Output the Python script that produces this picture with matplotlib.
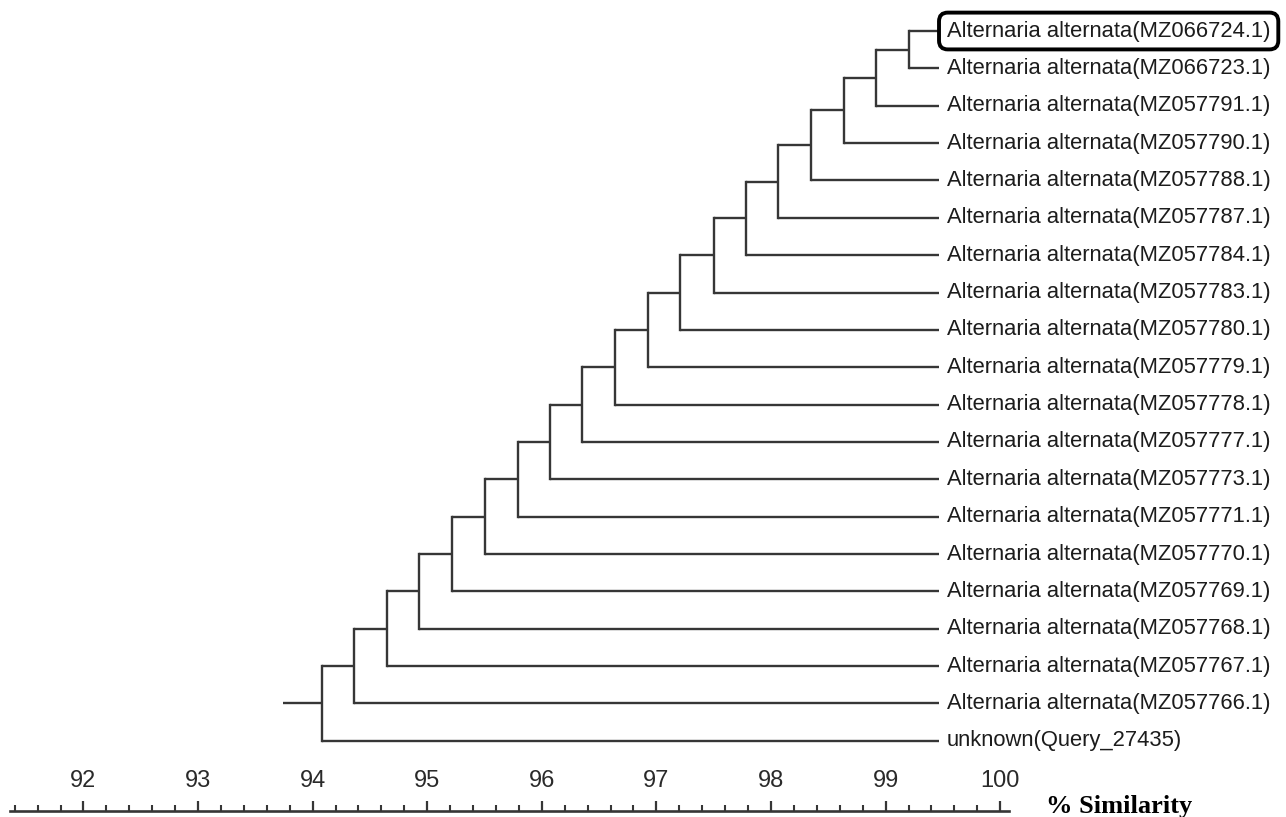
import matplotlib
matplotlib.use("Agg")
import matplotlib.pyplot as plt
import numpy as np
from matplotlib.ticker import FixedLocator

# Leaves, top to bottom
leaf_labels = [
    "Alternaria alternata(MZ066724.1)",
    "Alternaria alternata(MZ066723.1)",
    "Alternaria alternata(MZ057791.1)",
    "Alternaria alternata(MZ057790.1)",
    "Alternaria alternata(MZ057788.1)",
    "Alternaria alternata(MZ057787.1)",
    "Alternaria alternata(MZ057784.1)",
    "Alternaria alternata(MZ057783.1)",
    "Alternaria alternata(MZ057780.1)",
    "Alternaria alternata(MZ057779.1)",
    "Alternaria alternata(MZ057778.1)",
    "Alternaria alternata(MZ057777.1)",
    "Alternaria alternata(MZ057773.1)",
    "Alternaria alternata(MZ057771.1)",
    "Alternaria alternata(MZ057770.1)",
    "Alternaria alternata(MZ057769.1)",
    "Alternaria alternata(MZ057768.1)",
    "Alternaria alternata(MZ057767.1)",
    "Alternaria alternata(MZ057766.1)",
    "unknown(Query_27435)",
]

# Similarity (%) of each join; join k merges the cluster above with leaf k+1
node_similarity = [
    99.20, 98.92, 98.64, 98.35, 98.06, 97.78, 97.50, 97.21, 96.93, 96.64,
    96.35, 96.07, 95.79, 95.50, 95.22, 94.93, 94.65, 94.36, 94.08,
]
tip_similarity = 99.47
root_start = 93.74

scale_ticks = [92, 93, 94, 95, 96, 97, 98, 99, 100]
scale_start = 91.4
scale_step = 0.2
highlight_leaf = 0

LINE = "#363636"
TEXT = "#1c1c1c"
LW = 1.7

fig = plt.figure(figsize=(12.86, 8.17), dpi=100)
ax = fig.add_axes([0, 0, 1, 1])
ax.set_xlim(91.272, 102.494)
ax.set_ylim(21.04, -0.83)

# Build the ladder tree
y_prev = None
x_prev = None
for k, xs in enumerate(node_similarity):
    if k == 0:
        y_top = 0
        ax.plot([xs, tip_similarity], [0, 0], color=LINE, lw=LW, solid_capstyle="butt")
    else:
        y_top = y_prev
        ax.plot([xs, x_prev], [y_prev, y_prev], color=LINE, lw=LW, solid_capstyle="butt")
    leaf = k + 1
    ax.plot([xs, tip_similarity], [leaf, leaf], color=LINE, lw=LW, solid_capstyle="butt")
    ax.plot([xs, xs], [y_top, leaf], color=LINE, lw=LW, solid_capstyle="projecting")
    y_prev = (y_top + leaf) / 2
    x_prev = xs

# Root stub
ax.plot([root_start, x_prev], [y_prev, y_prev], color=LINE, lw=LW, solid_capstyle="butt")

# Leaf labels
for i, lab in enumerate(leaf_labels):
    kw = {}
    if i == highlight_leaf:
        kw["bbox"] = dict(boxstyle="round,pad=0.36,rounding_size=0.4",
                          fc="none", ec="black", lw=2.8)
    ax.text(tip_similarity + 0.065, i, lab, fontsize=15.8, family="Liberation Sans",
            color=TEXT, va="center", ha="left", **kw)

# Similarity scale
for s in ["left", "right", "bottom"]:
    ax.spines[s].set_visible(False)
ax.spines["top"].set_position(("data", 20.88))
ax.spines["top"].set_bounds(91.36, 100.08)
ax.spines["top"].set_linewidth(1.9)
ax.spines["top"].set_color(LINE)
ax.xaxis.set_ticks_position("top")
ax.set_xticks(scale_ticks)
ax.set_xticklabels([str(t) for t in scale_ticks])
minor = [v for v in np.arange(scale_start, scale_ticks[-1] + 1e-6, scale_step)
         if abs(v - round(v)) > 1e-6]
ax.xaxis.set_minor_locator(FixedLocator(minor))
ax.tick_params(axis="x", which="major", direction="out", length=7.2, width=1.6,
               color=LINE, pad=6.2, labelsize=17, labelcolor="#2a2a2a")
ax.tick_params(axis="x", which="minor", direction="out", length=4.2, width=1.5, color=LINE)
for t in ax.get_xticklabels():
    t.set_family("Liberation Sans")
ax.set_yticks([])

ax.text(100.40, 20.94, "% Similarity", fontsize=19, family="Liberation Serif",
        fontweight="bold", color="black", va="baseline", ha="left")

fig.savefig("out.png", dpi=100)
